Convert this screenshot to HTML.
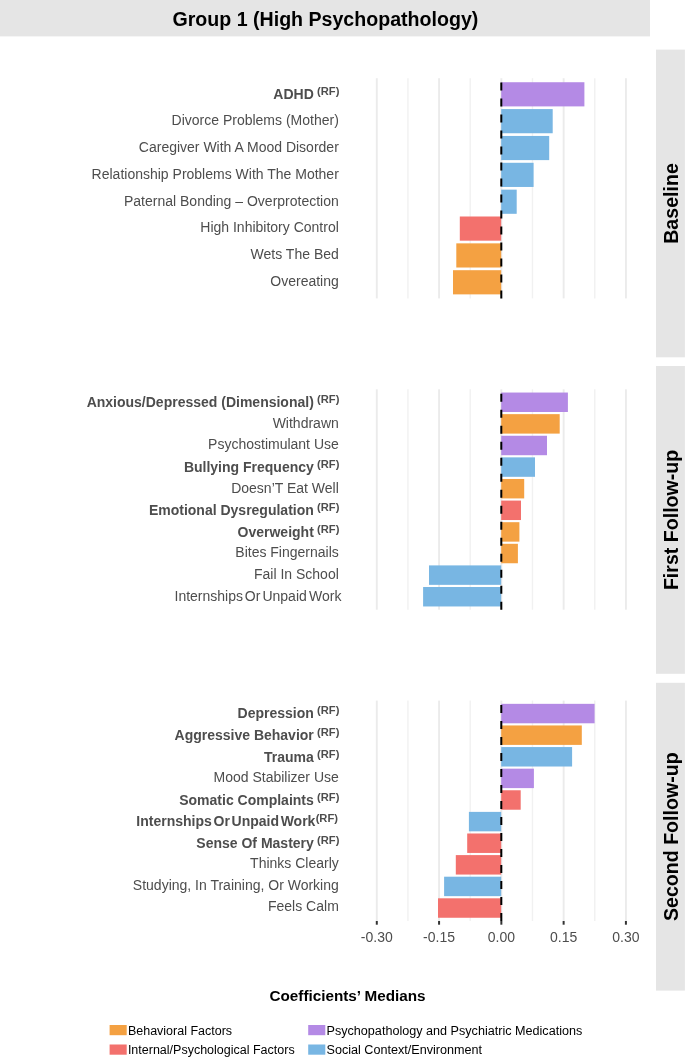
<!DOCTYPE html><html><head><meta charset="utf-8"><style>
html,body{margin:0;padding:0;background:#fff;}
svg{display:block;will-change:transform;font-family:"Liberation Sans", sans-serif;}
</style></head><body>
<svg width="685" height="1057" viewBox="0 0 685 1057">
<rect x="0" y="0" width="685" height="1057" fill="#fff"/>
<rect x="0" y="0" width="650" height="36.4" fill="#E5E5E5"/>
<text x="325.4" y="25.9" text-anchor="middle" font-size="19.6" font-weight="bold" fill="#000">Group 1 (High Psychopathology)</text>
<rect x="656" y="49.6" width="28.9" height="307.7" fill="#E5E5E5"/>
<text transform="translate(677.9 203.5) rotate(-90)" text-anchor="middle" font-size="19.6" font-weight="bold" fill="#000">Baseline</text>
<rect x="656" y="366.0" width="28.9" height="307.8" fill="#E5E5E5"/>
<text transform="translate(677.9 519.9) rotate(-90)" text-anchor="middle" font-size="19.6" font-weight="bold" fill="#000">First Follow-up</text>
<rect x="656" y="682.8" width="28.9" height="307.8" fill="#E5E5E5"/>
<text transform="translate(677.9 836.7) rotate(-90)" text-anchor="middle" font-size="19.6" font-weight="bold" fill="#000">Second Follow-up</text>
<line x1="376.79" y1="78.2" x2="376.79" y2="298.4" stroke="#EBEBEB" stroke-width="1.9"/>
<line x1="407.93" y1="78.2" x2="407.93" y2="298.4" stroke="#F1F1F1" stroke-width="1.4"/>
<line x1="439.07" y1="78.2" x2="439.07" y2="298.4" stroke="#EBEBEB" stroke-width="1.9"/>
<line x1="470.21" y1="78.2" x2="470.21" y2="298.4" stroke="#F1F1F1" stroke-width="1.4"/>
<line x1="501.35" y1="78.2" x2="501.35" y2="298.4" stroke="#EBEBEB" stroke-width="1.9"/>
<line x1="532.49" y1="78.2" x2="532.49" y2="298.4" stroke="#F1F1F1" stroke-width="1.4"/>
<line x1="563.63" y1="78.2" x2="563.63" y2="298.4" stroke="#EBEBEB" stroke-width="1.9"/>
<line x1="594.77" y1="78.2" x2="594.77" y2="298.4" stroke="#F1F1F1" stroke-width="1.4"/>
<line x1="625.91" y1="78.2" x2="625.91" y2="298.4" stroke="#EBEBEB" stroke-width="1.9"/>
<rect x="501.20" y="82.23" width="83.20" height="24.17" fill="#B48AE5"/>
<text x="339.4" y="98.61" text-anchor="end" font-size="14" fill="#4D4D4D"><tspan font-weight="bold">ADHD</tspan><tspan dx="3.2" dy="-3.80" font-size="11.2" font-weight="bold">(RF)</tspan></text>
<rect x="501.20" y="109.08" width="51.50" height="24.17" fill="#78B6E3"/>
<text x="338.8" y="125.07" text-anchor="end" font-size="14" fill="#4D4D4D">Divorce Problems (Mother)</text>
<rect x="501.20" y="135.94" width="48.00" height="24.17" fill="#78B6E3"/>
<text x="338.8" y="151.92" text-anchor="end" font-size="14" fill="#4D4D4D">Caregiver With A Mood Disorder</text>
<rect x="501.20" y="162.79" width="32.40" height="24.17" fill="#78B6E3"/>
<text x="338.8" y="178.77" text-anchor="end" font-size="14" fill="#4D4D4D">Relationship Problems With The Mother</text>
<rect x="501.20" y="189.64" width="15.50" height="24.17" fill="#78B6E3"/>
<text x="338.8" y="205.63" text-anchor="end" font-size="14" fill="#4D4D4D">Paternal Bonding – Overprotection</text>
<rect x="459.80" y="216.50" width="41.40" height="24.17" fill="#F3716D"/>
<text x="338.8" y="232.48" text-anchor="end" font-size="14" fill="#4D4D4D">High Inhibitory Control</text>
<rect x="456.30" y="243.35" width="44.90" height="24.17" fill="#F4A142"/>
<text x="338.8" y="259.33" text-anchor="end" font-size="14" fill="#4D4D4D">Wets The Bed</text>
<rect x="453.00" y="270.20" width="48.20" height="24.17" fill="#F4A142"/>
<text x="338.8" y="286.19" text-anchor="end" font-size="14" fill="#4D4D4D">Overeating</text>
<line x1="501.30" y1="298.4" x2="501.30" y2="78.2" stroke="#000" stroke-width="2" stroke-dasharray="8 8"/>
<line x1="376.79" y1="389.3" x2="376.79" y2="609.7" stroke="#EBEBEB" stroke-width="1.9"/>
<line x1="407.93" y1="389.3" x2="407.93" y2="609.7" stroke="#F1F1F1" stroke-width="1.4"/>
<line x1="439.07" y1="389.3" x2="439.07" y2="609.7" stroke="#EBEBEB" stroke-width="1.9"/>
<line x1="470.21" y1="389.3" x2="470.21" y2="609.7" stroke="#F1F1F1" stroke-width="1.4"/>
<line x1="501.35" y1="389.3" x2="501.35" y2="609.7" stroke="#EBEBEB" stroke-width="1.9"/>
<line x1="532.49" y1="389.3" x2="532.49" y2="609.7" stroke="#F1F1F1" stroke-width="1.4"/>
<line x1="563.63" y1="389.3" x2="563.63" y2="609.7" stroke="#EBEBEB" stroke-width="1.9"/>
<line x1="594.77" y1="389.3" x2="594.77" y2="609.7" stroke="#F1F1F1" stroke-width="1.4"/>
<line x1="625.91" y1="389.3" x2="625.91" y2="609.7" stroke="#EBEBEB" stroke-width="1.9"/>
<rect x="501.20" y="392.54" width="66.70" height="19.45" fill="#B48AE5"/>
<text x="339.4" y="407.06" text-anchor="end" font-size="14" fill="#4D4D4D"><tspan font-weight="bold">Anxious/Depressed (Dimensional)</tspan><tspan dx="3.2" dy="-3.80" font-size="11.2" font-weight="bold">(RF)</tspan></text>
<rect x="501.20" y="414.15" width="58.50" height="19.45" fill="#F4A142"/>
<text x="338.8" y="427.77" text-anchor="end" font-size="14" fill="#4D4D4D">Withdrawn</text>
<rect x="501.20" y="435.76" width="45.80" height="19.45" fill="#B48AE5"/>
<text x="338.8" y="449.38" text-anchor="end" font-size="14" fill="#4D4D4D">Psychostimulant Use</text>
<rect x="501.20" y="457.36" width="33.80" height="19.45" fill="#78B6E3"/>
<text x="339.4" y="471.89" text-anchor="end" font-size="14" fill="#4D4D4D"><tspan font-weight="bold">Bullying Frequency</tspan><tspan dx="3.2" dy="-3.80" font-size="11.2" font-weight="bold">(RF)</tspan></text>
<rect x="501.20" y="478.97" width="23.00" height="19.45" fill="#F4A142"/>
<text x="338.8" y="492.60" text-anchor="end" font-size="14" fill="#4D4D4D">Doesn’T Eat Well</text>
<rect x="501.20" y="500.58" width="19.80" height="19.45" fill="#F3716D"/>
<text x="339.4" y="514.60" text-anchor="end" font-size="14" fill="#4D4D4D"><tspan font-weight="bold">Emotional Dysregulation</tspan><tspan dx="3.2" dy="-3.80" font-size="11.2" font-weight="bold">(RF)</tspan></text>
<rect x="501.20" y="522.19" width="18.20" height="19.45" fill="#F4A142"/>
<text x="339.4" y="536.71" text-anchor="end" font-size="14" fill="#4D4D4D"><tspan font-weight="bold">Overweight</tspan><tspan dx="3.2" dy="-3.80" font-size="11.2" font-weight="bold">(RF)</tspan></text>
<rect x="501.20" y="543.80" width="16.70" height="19.45" fill="#F4A142"/>
<text x="338.8" y="557.42" text-anchor="end" font-size="14" fill="#4D4D4D">Bites Fingernails</text>
<rect x="429.00" y="565.40" width="72.20" height="19.45" fill="#78B6E3"/>
<text x="338.8" y="579.03" text-anchor="end" font-size="14" fill="#4D4D4D">Fail In School</text>
<rect x="423.10" y="587.01" width="78.10" height="19.45" fill="#78B6E3"/>
<text x="243.0" y="600.64" text-anchor="end" font-size="14" fill="#4D4D4D">Internships</text>
<text x="260.4" y="600.64" text-anchor="end" font-size="14" fill="#4D4D4D">Or</text>
<text x="306.8" y="600.64" text-anchor="end" font-size="14" fill="#4D4D4D">Unpaid</text>
<text x="341.5" y="600.64" text-anchor="end" font-size="14" fill="#4D4D4D">Work</text>
<line x1="501.30" y1="609.7" x2="501.30" y2="389.3" stroke="#000" stroke-width="2" stroke-dasharray="8 8"/>
<line x1="376.79" y1="700.6" x2="376.79" y2="921.0" stroke="#EBEBEB" stroke-width="1.9"/>
<line x1="407.93" y1="700.6" x2="407.93" y2="921.0" stroke="#F1F1F1" stroke-width="1.4"/>
<line x1="439.07" y1="700.6" x2="439.07" y2="921.0" stroke="#EBEBEB" stroke-width="1.9"/>
<line x1="470.21" y1="700.6" x2="470.21" y2="921.0" stroke="#F1F1F1" stroke-width="1.4"/>
<line x1="501.35" y1="700.6" x2="501.35" y2="921.0" stroke="#EBEBEB" stroke-width="1.9"/>
<line x1="532.49" y1="700.6" x2="532.49" y2="921.0" stroke="#F1F1F1" stroke-width="1.4"/>
<line x1="563.63" y1="700.6" x2="563.63" y2="921.0" stroke="#EBEBEB" stroke-width="1.9"/>
<line x1="594.77" y1="700.6" x2="594.77" y2="921.0" stroke="#F1F1F1" stroke-width="1.4"/>
<line x1="625.91" y1="700.6" x2="625.91" y2="921.0" stroke="#EBEBEB" stroke-width="1.9"/>
<rect x="501.20" y="703.84" width="93.40" height="19.45" fill="#B48AE5"/>
<text x="339.4" y="717.86" text-anchor="end" font-size="14" fill="#4D4D4D"><tspan font-weight="bold">Depression</tspan><tspan dx="3.2" dy="-3.80" font-size="11.2" font-weight="bold">(RF)</tspan></text>
<rect x="501.20" y="725.45" width="80.60" height="19.45" fill="#F4A142"/>
<text x="339.4" y="739.97" text-anchor="end" font-size="14" fill="#4D4D4D"><tspan font-weight="bold">Aggressive Behavior</tspan><tspan dx="3.2" dy="-3.80" font-size="11.2" font-weight="bold">(RF)</tspan></text>
<rect x="501.20" y="747.06" width="70.90" height="19.45" fill="#78B6E3"/>
<text x="339.4" y="761.58" text-anchor="end" font-size="14" fill="#4D4D4D"><tspan font-weight="bold">Trauma</tspan><tspan dx="3.2" dy="-3.80" font-size="11.2" font-weight="bold">(RF)</tspan></text>
<rect x="501.20" y="768.66" width="32.70" height="19.45" fill="#B48AE5"/>
<text x="338.8" y="781.79" text-anchor="end" font-size="14" fill="#4D4D4D">Mood Stabilizer Use</text>
<rect x="501.20" y="790.27" width="19.50" height="19.45" fill="#F3716D"/>
<text x="339.4" y="804.80" text-anchor="end" font-size="14" fill="#4D4D4D"><tspan font-weight="bold">Somatic Complaints</tspan><tspan dx="3.2" dy="-3.80" font-size="11.2" font-weight="bold">(RF)</tspan></text>
<rect x="468.90" y="811.88" width="32.30" height="19.45" fill="#78B6E3"/>
<text x="338.0" y="825.80" text-anchor="end" font-size="14" fill="#4D4D4D"><tspan font-weight="bold" word-spacing="-2.2">Internships Or Unpaid Work</tspan><tspan dx="0.2" dy="-3.8" font-size="11.2" font-weight="bold">(RF)</tspan></text>
<rect x="467.20" y="833.49" width="34.00" height="19.45" fill="#F3716D"/>
<text x="339.4" y="848.01" text-anchor="end" font-size="14" fill="#4D4D4D"><tspan font-weight="bold">Sense Of Mastery</tspan><tspan dx="3.2" dy="-3.80" font-size="11.2" font-weight="bold">(RF)</tspan></text>
<rect x="455.80" y="855.10" width="45.40" height="19.45" fill="#F3716D"/>
<text x="338.8" y="868.22" text-anchor="end" font-size="14" fill="#4D4D4D">Thinks Clearly</text>
<rect x="444.10" y="876.70" width="57.10" height="19.45" fill="#78B6E3"/>
<text x="338.8" y="889.83" text-anchor="end" font-size="14" fill="#4D4D4D">Studying, In Training, Or Working</text>
<rect x="438.00" y="898.31" width="63.20" height="19.45" fill="#F3716D"/>
<text x="338.8" y="911.44" text-anchor="end" font-size="14" fill="#4D4D4D">Feels Calm</text>
<line x1="501.30" y1="921.0" x2="501.30" y2="700.6" stroke="#000" stroke-width="2" stroke-dasharray="8 8"/>
<line x1="376.79" y1="921.0" x2="376.79" y2="924.7" stroke="#333" stroke-width="2"/>
<text x="376.79" y="941.9" text-anchor="middle" font-size="14" fill="#4D4D4D">-0.30</text>
<line x1="439.07" y1="921.0" x2="439.07" y2="924.7" stroke="#333" stroke-width="2"/>
<text x="439.07" y="941.9" text-anchor="middle" font-size="14" fill="#4D4D4D">-0.15</text>
<line x1="501.35" y1="921.0" x2="501.35" y2="924.7" stroke="#333" stroke-width="2"/>
<text x="501.35" y="941.9" text-anchor="middle" font-size="14" fill="#4D4D4D">0.00</text>
<line x1="563.63" y1="921.0" x2="563.63" y2="924.7" stroke="#333" stroke-width="2"/>
<text x="563.63" y="941.9" text-anchor="middle" font-size="14" fill="#4D4D4D">0.15</text>
<line x1="625.91" y1="921.0" x2="625.91" y2="924.7" stroke="#333" stroke-width="2"/>
<text x="625.91" y="941.9" text-anchor="middle" font-size="14" fill="#4D4D4D">0.30</text>
<text x="347.5" y="1000.9" text-anchor="middle" font-size="15.25" font-weight="bold" fill="#000">Coefficients’ Medians</text>
<rect x="109.6" y="1025.0" width="17.1" height="10.2" fill="#F4A142"/>
<text x="127.9" y="1034.8" font-size="12.5" fill="#000">Behavioral Factors</text>
<rect x="109.6" y="1044.5" width="17.1" height="10.2" fill="#F3716D"/>
<text x="127.9" y="1054.3" font-size="12.5" fill="#000">Internal/Psychological Factors</text>
<rect x="308.2" y="1025.0" width="17.1" height="10.2" fill="#B48AE5"/>
<text x="326.5" y="1034.8" font-size="12.62" fill="#000">Psychopathology and Psychiatric Medications</text>
<rect x="308.2" y="1044.5" width="17.1" height="10.2" fill="#78B6E3"/>
<text x="326.5" y="1054.3" font-size="12.62" fill="#000">Social Context/Environment</text>
</svg></body></html>
